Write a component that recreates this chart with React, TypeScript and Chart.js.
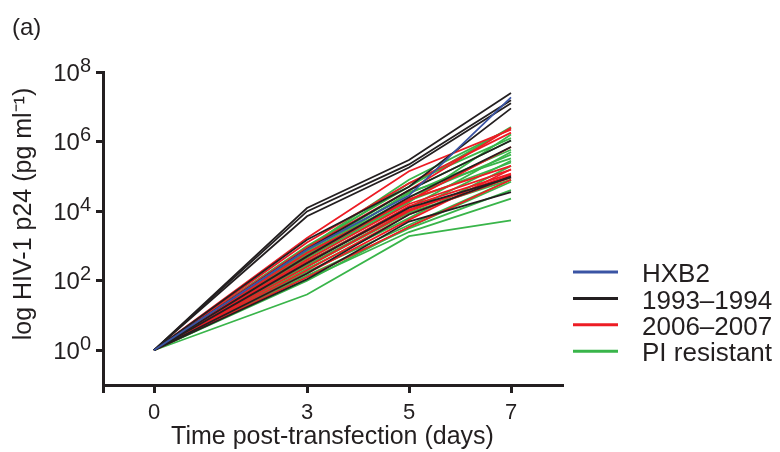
import React, { useEffect, useRef } from 'react';
import { Chart, registerables } from 'chart.js';
Chart.register(...registerables);

const days = [0, 3, 5, 7];

const hxb2Series = [[1, 780, 2.8e4, 1.86e7]];

const series1993 = [
  [1, 1.23e4, 2.95e5, 2.5e7],
  [1, 9.8e3, 2.2e5, 1.55e7],
  [1, 7.1e3, 1.8e5, 1.26e7],
  [1, 1.5e3, 5e4, 9e6],
  [1, 800, 4e4, 1.07e6],
  [1, 500, 2.5e4, 7e5],
  [1, 320, 1.26e4, 9.3e4],
  [1, 110, 5e3, 3.5e4],
  [1, 160, 8e3, 1e5],
];

const series2006 = [
  [1, 1.7e3, 1.4e5, 2.2e6],
  [1, 1.26e3, 6.3e4, 1.8e6],
  [1, 900, 4e4, 2.5e6],
  [1, 630, 2e4, 7e5],
  [1, 500, 2.2e4, 2e5],
  [1, 400, 1.6e4, 1.55e5],
  [1, 320, 1.4e4, 1.2e5],
  [1, 250, 1e4, 1.1e5],
  [1, 200, 8e3, 9.3e4],
  [1, 160, 5.6e3, 1.6e5],
  [1, 125, 3.5e3, 8e4],
  [1, 350, 1.1e4, 1e5],
];

const seriesPI = [
  [1, 1e3, 5e4, 2.6e6],
  [1, 900, 8e4, 2.4e6],
  [1, 700, 4e4, 1.07e6],
  [1, 630, 3.2e4, 5.8e5],
  [1, 560, 2.5e4, 4.2e5],
  [1, 500, 3.5e4, 3.3e5],
  [1, 450, 2e4, 2.5e5],
  [1, 400, 1.8e4, 1.6e6],
  [1, 350, 1.26e4, 5e5],
  [1, 280, 1e4, 2.8e5],
  [1, 250, 9e3, 8e4],
  [1, 220, 6.3e3, 2e5],
  [1, 180, 4e3, 8e4],
  [1, 140, 3.2e3, 4e4],
  [1, 110, 2.5e3, 2.3e4],
  [1, 40, 1.9e3, 5.4e3],
  [1, 100, 3.5e3, 7e4],
  [1, 800, 6.3e4, 1.26e6],
];

const yTickValues = [1, 1e2, 1e4, 1e6, 1e8];
const yTickExponents = ['0', '2', '4', '6', '8'];
const xTickValues = [-1, 0, 3, 5, 7];

const groupLabels = ['HXB2', '1993\u20131994', '2006\u20132007', 'PI resistant'];
const groupColors = ['#3a54a4', '#231f20', '#ed1c24', '#39b54a'];

const xTitle = 'Time post-transfection (days)';
const yTitle = 'log HIV-1 p24 (pg ml\u207B\u00B9)';
const panelLabel = '(a)';

const FONT = '"Liberation Sans", Arial, Helvetica, sans-serif';
const INK = '#231f20';

export default function App() {
  const ref = useRef<HTMLCanvasElement | null>(null);

  useEffect(() => {
    document.body.style.margin = '0';
    const canvas = ref.current;
    if (!canvas) return;

    const groups = [hxb2Series, series1993, series2006, seriesPI];
    const datasets: any[] = [];
    groups.forEach((g, gi) => {
      g.forEach((vals) => {
        datasets.push({
          label: groupLabels[gi],
          data: days.map((d, i) => ({ x: d, y: vals[i] })),
          borderColor: groupColors[gi],
          borderWidth: 1.8,
          pointRadius: 0,
          tension: 0,
          fill: false,
        });
      });
    });

    const customPlugin = {
      id: 'custom',
      afterDraw(chart: any) {
        const ctx = chart.ctx;
        const ys = chart.scales.y;
        ctx.save();
        ctx.fillStyle = INK;
        // y tick labels 10^n
        yTickValues.forEach((v, i) => {
          const py = ys.getPixelForValue(v);
          ctx.textBaseline = 'middle';
          ctx.textAlign = 'left';
          const expFont = `20px ${FONT}`;
          ctx.font = expFont;
          const ew = ctx.measureText(yTickExponents[i]).width;
          ctx.font = `24px ${FONT}`;
          const bw = ctx.measureText('10').width;
          const right = 91;
          const bx = right - ew - bw;
          ctx.fillText('10', bx, py + 2);
          ctx.font = expFont;
          ctx.fillText(yTickExponents[i], bx + bw, py - 6);
        });
        // y title
        ctx.save();
        ctx.translate(24, 214);
        ctx.rotate(-Math.PI / 2);
        ctx.textAlign = 'center';
        ctx.textBaseline = 'middle';
        ctx.font = `25px ${FONT}`;
        ctx.fillText(yTitle, 0, 0);
        ctx.restore();
        // panel label
        ctx.font = `24px ${FONT}`;
        ctx.textAlign = 'left';
        ctx.textBaseline = 'middle';
        ctx.fillText(panelLabel, 12, 28);
        // legend
        const ly0 = 272;
        const step = 26.4;
        groupLabels.forEach((lab, i) => {
          const y = ly0 + step * i;
          ctx.strokeStyle = groupColors[i];
          ctx.lineWidth = 3;
          ctx.beginPath();
          ctx.moveTo(573, y);
          ctx.lineTo(618, y);
          ctx.stroke();
          ctx.fillStyle = INK;
          ctx.font = `26px ${FONT}`;
          ctx.fillText(lab, 642, y + 3);
        });
        ctx.restore();
      },
    };

    const chart = new Chart(canvas, {
      type: 'line',
      data: { datasets },
      options: {
        animation: false,
        responsive: false,
        layout: { padding: { top: 72, right: 218, left: 0, bottom: 0 } },
        plugins: { legend: { display: false }, tooltip: { enabled: false } },
        scales: {
          x: {
            type: 'linear',
            min: -1,
            max: 8,
            afterBuildTicks: (s: any) => {
              s.ticks = xTickValues.map((v) => ({ value: v }));
            },
            afterFit: (s: any) => {
              s.height = 67;
            },
            ticks: {
              autoSkip: false,
              maxRotation: 0,
              color: INK,
              font: { family: FONT, size: 22 },
              padding: 7,
              callback: (v: any) => (Number(v) < 0 ? '' : String(v)),
            },
            grid: {
              drawOnChartArea: false,
              drawTicks: true,
              tickLength: 8,
              lineWidth: 3,
              color: INK,
            },
            border: { display: true, width: 3, color: INK },
            title: {
              display: true,
              text: xTitle,
              color: INK,
              font: { family: FONT, size: 25 },
              padding: { top: 0, bottom: 0 },
            },
          },
          y: {
            type: 'logarithmic',
            min: 0.1,
            max: 1e8,
            afterBuildTicks: (s: any) => {
              s.ticks = yTickValues.map((v) => ({ value: v }));
            },
            afterFit: (s: any) => {
              s.width = 103;
            },
            ticks: {
              autoSkip: false,
              callback: () => '',
            },
            grid: {
              drawOnChartArea: false,
              drawTicks: true,
              tickLength: 7,
              lineWidth: 3,
              color: INK,
            },
            border: { display: true, width: 3, color: INK },
          },
        },
      },
      plugins: [customPlugin],
    });

    return () => chart.destroy();
  }, []);

  return (
    <div style={{ width: 780, height: 452 }}>
      <canvas ref={ref} width={780} height={452} />
    </div>
  );
}
